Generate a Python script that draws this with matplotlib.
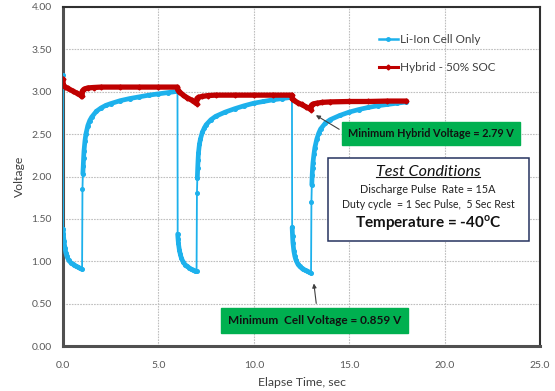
import numpy as np
import matplotlib
matplotlib.use("Agg")
import matplotlib.pyplot as plt
from matplotlib.lines import Line2D
from matplotlib.patches import Rectangle

plt.rcParams['font.family'] = ['Lato', 'DejaVu Sans']

# ---------------- data ----------------
li_time = [0.00, 0.005, 0.02, 0.05, 0.10, 0.15, 0.20, 0.30, 0.40, 0.50, 0.60, 0.70, 0.80, 0.90, 1.00,
           1.02, 1.04, 1.06, 1.08, 1.10, 1.15, 1.20, 1.30, 1.40, 1.50, 1.75, 2.00, 2.25, 2.50, 3.00, 3.50,
           4.00, 4.50, 5.00, 5.50, 6.00,
           6.01, 6.03, 6.05, 6.10, 6.15, 6.20, 6.30, 6.40, 6.50, 6.60, 6.70, 6.80, 6.90, 7.00,
           7.02, 7.04, 7.06, 7.08, 7.10, 7.15, 7.20, 7.30, 7.40, 7.50, 7.75, 8.00, 8.50, 9.00, 9.50,
           10.00, 10.50, 11.00, 11.50, 12.00,
           12.01, 12.03, 12.05, 12.10, 12.15, 12.20, 12.30, 12.40, 12.50, 12.60, 12.70, 12.80, 12.90, 13.00,
           13.02, 13.04, 13.06, 13.08, 13.10, 13.15, 13.20, 13.30, 13.40, 13.50, 13.75, 14.00, 14.50,
           15.00, 15.50, 16.00, 16.50, 17.00, 17.50, 18.00]
li_volt = [3.20, 1.38, 1.32, 1.24, 1.16, 1.10, 1.06, 1.01, 0.985, 0.97, 0.955, 0.94, 0.93, 0.915, 0.905,
           1.85, 2.03, 2.12, 2.22, 2.30, 2.42, 2.50, 2.60, 2.66, 2.70, 2.77, 2.81, 2.84, 2.86, 2.895, 2.92,
           2.94, 2.96, 2.975, 2.99, 3.005,
           1.32, 1.26, 1.21, 1.13, 1.08, 1.04, 0.99, 0.96, 0.94, 0.925, 0.91, 0.90, 0.89, 0.88,
           1.80, 1.98, 2.10, 2.20, 2.28, 2.38, 2.44, 2.52, 2.57, 2.61, 2.67, 2.71, 2.76, 2.80, 2.835,
           2.865, 2.885, 2.905, 2.92, 2.935,
           1.40, 1.30, 1.22, 1.12, 1.06, 1.02, 0.97, 0.94, 0.92, 0.905, 0.895, 0.885, 0.872, 0.859,
           1.70, 1.90, 2.02, 2.10, 2.16, 2.26, 2.34, 2.44, 2.51, 2.56, 2.63, 2.67, 2.72,
           2.76, 2.79, 2.815, 2.835, 2.85, 2.865, 2.88]

hy_time = [0.00, 0.01, 0.10, 0.25, 0.50, 0.75, 0.95, 1.00, 1.02, 1.10, 1.30, 1.60, 2.00, 3.00, 4.00, 5.00, 6.00,
           6.02, 6.10, 6.30, 6.50, 6.75, 7.00, 7.02, 7.10, 7.30, 7.60, 8.00, 9.00, 10.00, 11.00, 12.00,
           12.02, 12.10, 12.30, 12.50, 12.75, 13.00, 13.02, 13.10, 13.30, 13.60, 14.00, 15.00, 16.00, 17.00, 18.00]
hy_volt = [3.15, 3.08, 3.06, 3.04, 3.01, 2.98, 2.955, 2.95, 3.01, 3.03, 3.045, 3.05, 3.055, 3.055, 3.055, 3.055, 3.055,
           3.02, 3.00, 2.96, 2.93, 2.90, 2.86, 2.92, 2.935, 2.945, 2.955, 2.96, 2.96, 2.96, 2.96, 2.96,
           2.92, 2.90, 2.87, 2.85, 2.82, 2.79, 2.84, 2.855, 2.865, 2.875, 2.88, 2.885, 2.885, 2.89, 2.89]

x_ticks = [0.0, 5.0, 10.0, 15.0, 20.0, 25.0]
y_ticks = [0.00, 0.50, 1.00, 1.50, 2.00, 2.50, 3.00, 3.50, 4.00]
series_labels = ["Li-Ion Cell Only", "Hybrid - 50% SOC"]

BLUE = '#1DB1EC'
RED = '#BF0000'

# ---------------- figure ----------------
fig = plt.figure(figsize=(5.55, 3.91), dpi=100)
ax = fig.add_axes([63/555, 1-346/391, 477/555, 339/391])

ax.set_xlim(0, 25)
ax.set_ylim(0, 4)
ax.set_xticks(x_ticks)
ax.set_yticks(y_ticks)
ax.set_xticklabels([f"{v:.1f}" for v in x_ticks])
ax.set_yticklabels([f"{v:.2f}" for v in y_ticks])
ax.tick_params(axis='y', length=0, labelsize=7.5, colors='#595959', pad=8)
ax.tick_params(axis='x', length=0, labelsize=7.5, colors='#595959', pad=11)
ax.grid(True, color='#BFBFBF', linestyle=(0, (1.5, 1.0)), linewidth=0.8)
ax.set_axisbelow(True)
for s in ['top', 'right']:
    ax.spines[s].set_color('#303030')
    ax.spines[s].set_linewidth(1.5)
for s in ['left', 'bottom']:
    ax.spines[s].set_color('#505050')
    ax.spines[s].set_linewidth(2.2)

# Li-ion: thin connecting line with dots, thick dense segments
lt = np.array(li_time)
lv = np.array(li_volt)
ax.plot(lt, lv, color=BLUE, lw=1.3, marker='o', ms=2.6, zorder=3)
breaks = np.where(np.abs(np.diff(lv)) > 0.15)[0] + 1
for st, sv in zip(np.split(lt, breaks), np.split(lv, breaks)):
    if len(st) > 1:
        ax.plot(st, sv, color=BLUE, lw=3.4, solid_capstyle='round', zorder=3)

# Hybrid
ax.plot(hy_time, hy_volt, color=RED, lw=3.8, solid_capstyle='round',
        marker='D', ms=2.5, zorder=4)

ax.set_xlabel("Elapse Time, sec", fontsize=8.8, color='#404040', labelpad=5)
ax.set_ylabel("Voltage", fontsize=8.8, color='#404040', labelpad=5)

handles = [Line2D([], [], color=BLUE, lw=1.8, marker='o', ms=2.5),
           Line2D([], [], color=RED, lw=2.2, marker='D', ms=2.5)]
ax.legend(handles, series_labels, loc='upper left', bbox_to_anchor=(0.650, 0.937),
          frameon=False, fontsize=8.5, labelcolor='#404040', handlelength=1.6,
          handletextpad=0.15, labelspacing=1.45, borderpad=0)

# Annotation: minimum hybrid voltage
ax.annotate("", xy=(13.13, 2.74), xytext=(14.6, 2.54),
            arrowprops=dict(arrowstyle='-|>', color='#404040', lw=0.8, mutation_scale=6), zorder=6)
ax.text(19.27, 2.51, "Minimum Hybrid Voltage = 2.79 V", ha='center', va='center',
        fontsize=7.8, fontweight='bold', color='#111111', zorder=7,
        bbox=dict(boxstyle='square,pad=0.55', fc='#00B050', ec='#00B050'))

# Annotation: minimum cell voltage
ax.annotate("", xy=(13.13, 0.77), xytext=(13.29, 0.47),
            arrowprops=dict(arrowstyle='-|>', color='#404040', lw=0.8, mutation_scale=6), zorder=6)
ax.text(13.17, 0.303, "Minimum  Cell Voltage = 0.859 V", ha='center', va='center',
        fontsize=8.5, fontweight='bold', color='#111111', zorder=7,
        bbox=dict(boxstyle='square,pad=0.6', fc='#00B050', ec='#00B050'))

# Test conditions box
x0, x1 = 13.87, 24.42
y0, y1 = 1.242, 2.215
ax.add_patch(Rectangle((x0, y0), x1-x0, y1-y0, facecolor='white', edgecolor='#26335F',
                       lw=1.1, zorder=6))
cx = 19.13
title = ax.text(cx, 2.057, "Test Conditions", ha='center', va='center', fontsize=11.6,
                style='italic', color='#111111', zorder=7)
ax.text(cx, 1.849, "Discharge Pulse  Rate = 15A", ha='center', va='center', fontsize=7.8,
        color='#222222', zorder=7)
ax.text(cx, 1.664, "Duty cycle  = 1 Sec Pulse,  5 Sec Rest", ha='center', va='center', fontsize=7.6,
        color='#222222', zorder=7)
ax.text(cx, 1.448, r"Temperature = -40$^{\mathregular{o}}$C", ha='center', va='center', fontsize=11.0,
        fontweight='bold', color='#111111', zorder=7)

# underline the title
fig.canvas.draw()
bb = title.get_window_extent().transformed(ax.transData.inverted())
ax.plot([bb.x0, bb.x1], [bb.y0 + 0.02, bb.y0 + 0.02], color='#111111', lw=0.8, zorder=7)

fig.savefig("out.png", dpi=100)
